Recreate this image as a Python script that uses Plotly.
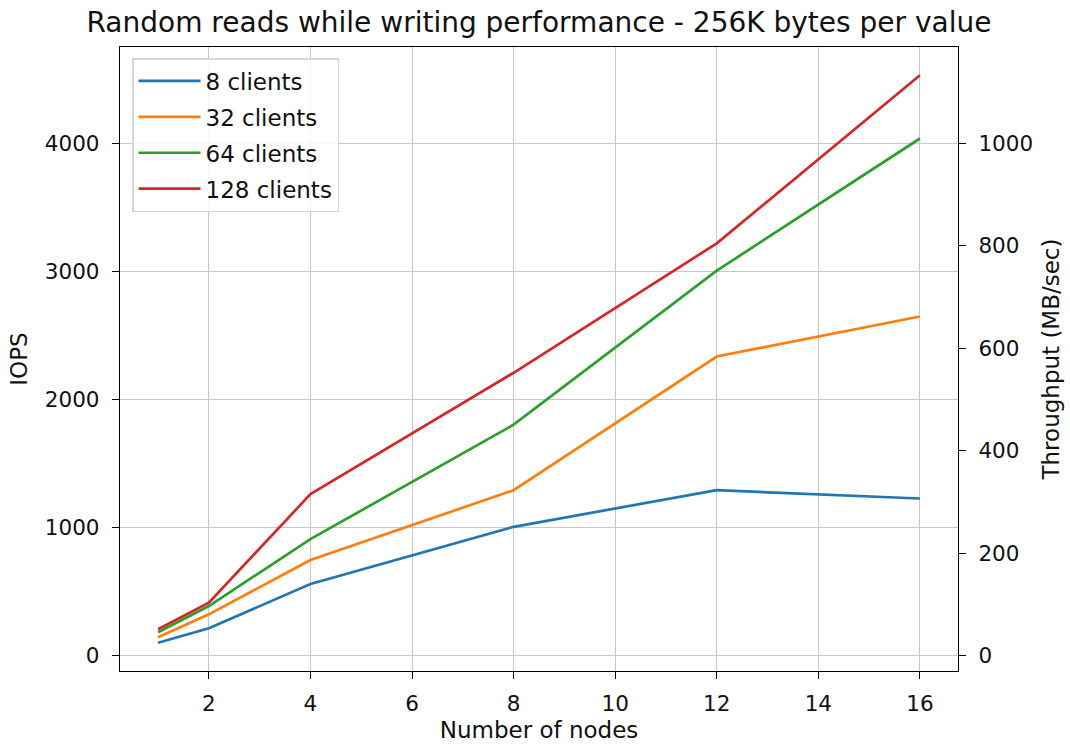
import plotly.graph_objects as go

nodes = [1, 2, 4, 8, 12, 16]
iops_8 = [103, 215, 561, 1007, 1293, 1228]
iops_32 = [145, 324, 748, 1293, 2336, 2648]
iops_64 = [184, 389, 911, 1804, 3006, 4037]
iops_128 = [208, 415, 1262, 2209, 3219, 4530]
series_names = ["8 clients", "32 clients", "64 clients", "128 clients"]
colors = ["#1f77b4", "#ff7f0e", "#2ca02c", "#d62728"]
bytes_per_value_kb = 256

x_ticks = [2, 4, 6, 8, 10, 12, 14, 16]
y_ticks = [0, 1000, 2000, 3000, 4000]
y2_ticks = [0, 200, 400, 600, 800, 1000]

FONT = "DejaVu Sans"
TICK = 21.5
LAB = 23
fig = go.Figure()
for i, (name, vals, c) in enumerate(zip(series_names, [iops_8, iops_32, iops_64, iops_128], colors)):
    fig.add_trace(go.Scatter(x=nodes, y=vals, mode="lines", name=name,
                             line=dict(color=c, width=2.7), legendgroup=f"g{i}"))

# throughput axis companion (MB/sec = IOPS * 256KB / 1024)
fig.add_trace(go.Scatter(x=nodes, y=[v * bytes_per_value_kb / 1024 for v in iops_128], yaxis="y2",
                         mode="lines", line=dict(width=0, color="rgba(0,0,0,0)"),
                         showlegend=False, hoverinfo="skip"))

ymin, ymax = -118, 4751
scale = bytes_per_value_kb / 1024

fig.update_layout(
    width=1070, height=747,
    margin=dict(l=120, r=112, t=47, b=76, autoexpand=False),
    paper_bgcolor="white", plot_bgcolor="white",
    font=dict(family=FONT, size=TICK, color="#111111"),
    title=dict(text="Random reads while writing performance - 256K bytes per value",
               x=0.5, xref="paper", xanchor="center", y=1 - 22 / 747, yanchor="middle",
               font=dict(size=28, family=FONT, color="#111111")),
    xaxis=dict(range=[0.25, 16.75], tickvals=x_ticks, ticks="outside", ticklen=7, tickcolor="black",
               showline=True, linecolor="black", linewidth=1.3, mirror=True,
               showgrid=True, gridcolor="#c8c8c8", gridwidth=1, zeroline=False,
               tickfont=dict(size=TICK), automargin=False,
               title=dict(text="Number of nodes", font=dict(size=LAB), standoff=6),
               ticklabelstandoff=6),
    yaxis=dict(range=[ymin, ymax], tickvals=y_ticks, ticks="outside", ticklen=7, tickcolor="black",
               showline=True, linecolor="black", linewidth=1.3, mirror=True,
               showgrid=True, gridcolor="#c8c8c8", gridwidth=1, zeroline=False,
               tickfont=dict(size=TICK), automargin=False,
               title=dict(text="IOPS", font=dict(size=LAB), standoff=10),
               ticklabelstandoff=8),
    yaxis2=dict(range=[ymin * scale, ymax * scale], tickvals=y2_ticks, overlaying="y", side="right",
                ticks="outside", ticklen=7, tickcolor="black", showgrid=False, zeroline=False,
                showline=True, linecolor="black", linewidth=1.3,
                tickfont=dict(size=TICK), automargin=False,
                title=dict(text="Throughput (MB/sec)", font=dict(size=LAB), standoff=10),
                ticklabelstandoff=8),
    legend=dict(x=12 / 838, y=1 - 11 / 624, xanchor="left", yanchor="top",
                bgcolor="rgba(255,255,255,0.85)", bordercolor="#d6d6d6", borderwidth=1.5,
                font=dict(size=LAB, family=FONT), tracegroupgap=3, itemwidth=62),
    showlegend=True,
)

fig.write_html("out.html")
